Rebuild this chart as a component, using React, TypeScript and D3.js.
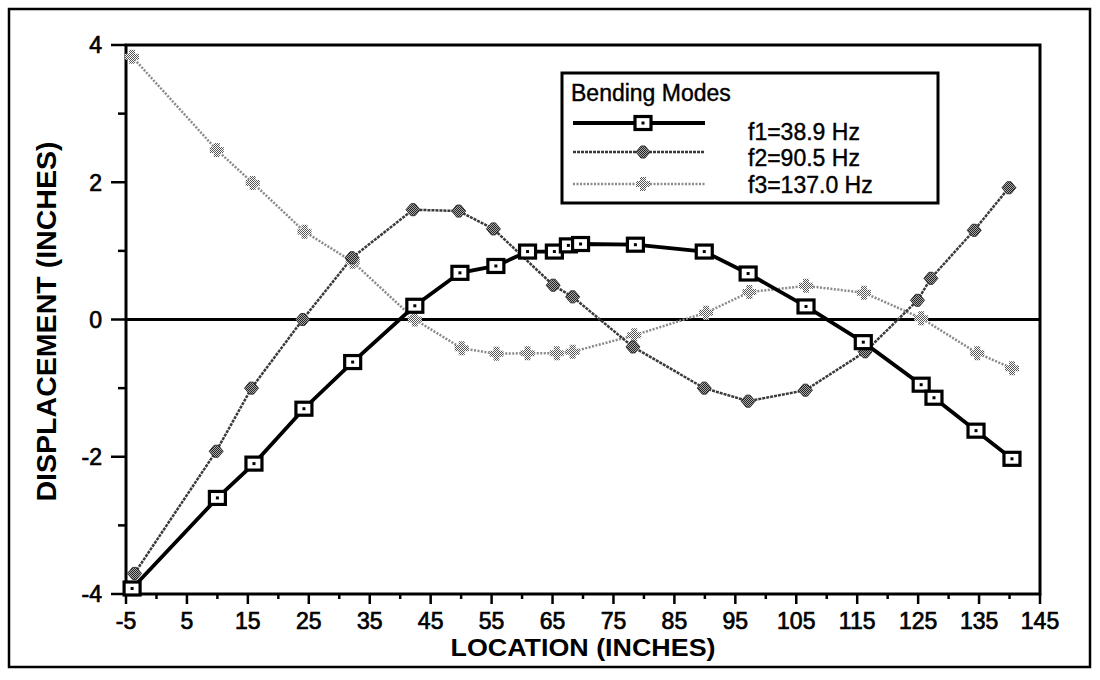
import React from "react";
import * as d3 from "d3";

const f1X = [-4, 10, 16, 24.2, 32.2, 42.4, 49.8, 55.7, 60.9, 65.3, 67.6, 69.6, 78.6, 89.9, 97.1, 106.6, 116, 125.5, 127.6, 134.5, 140.4];
const f1Y = [-3.92, -2.6, -2.1, -1.3, -0.62, 0.2, 0.68, 0.78, 0.99, 0.99, 1.08, 1.1, 1.09, 0.99, 0.67, 0.19, -0.33, -0.95, -1.14, -1.62, -2.03];

const f2X = [-3.6, 9.8, 15.6, 24, 32.1, 42.1, 49.6, 55.3, 65.1, 68.3, 78.2, 89.9, 97.1, 106.5, 116.3, 124.9, 127.1, 134.2, 139.9];
const f2Y = [-3.7, -1.92, -1.0, 0.0, 0.9, 1.6, 1.58, 1.32, 0.5, 0.33, -0.4, -1.0, -1.19, -1.03, -0.47, 0.28, 0.6, 1.3, 1.92];

const f3X = [-4, 9.9, 15.8, 24.3, 32.2, 42.4, 50.1, 55.8, 60.9, 65.7, 68.3, 78.4, 90.2, 97.3, 106.6, 116.1, 125.5, 134.7, 140.4];
const f3Y = [3.83, 2.47, 1.99, 1.28, 0.84, 0.0, -0.42, -0.5, -0.49, -0.49, -0.47, -0.23, 0.1, 0.4, 0.49, 0.39, 0.02, -0.49, -0.71];

const xTicks = [-5, 5, 15, 25, 35, 45, 55, 65, 75, 85, 95, 105, 115, 125, 135, 145];
const xMinor = [0, 10, 20, 30, 40, 50, 60, 70, 80, 90, 100, 110, 120, 130, 140];
const yTicks = [-4, -2, 0, 2, 4];
const yMinor = [-3, -1, 1, 3];
const legendLabels = ["f1=38.9 Hz", "f2=90.5 Hz", "f3=137.0 Hz"];
const legendTitle = "Bending Modes";
const xTitle = "LOCATION (INCHES)";
const yTitle = "DISPLACEMENT (INCHES)";

const W = 1100;
const H = 680;
const L = 126, R = 1040, T = 45, B = 594;
const FONT = "'Liberation Sans', Arial, Helvetica, sans-serif";

export default function App() {
  const x = d3.scaleLinear().domain([-5, 145]).range([L, R]);
  const y = d3.scaleLinear().domain([-4, 4]).range([B, T]);
  const line = d3.line<[number, number]>().x((d) => x(d[0])).y((d) => y(d[1]));
  const s1 = f1X.map((v, i) => [v, f1Y[i]] as [number, number]);
  const s2 = f2X.map((v, i) => [v, f2Y[i]] as [number, number]);
  const s3 = f3X.map((v, i) => [v, f3Y[i]] as [number, number]);

  const sq = (cx: number, cy: number, k: string) => (
    <g key={k}>
      <rect x={cx - 8} y={cy - 6.5} width={16} height={13} fill="#fff" stroke="#000" strokeWidth={3.2} />
      <rect x={cx - 1.5} y={cy - 1.5} width={3} height={3} fill="#000" />
    </g>
  );
  const m2 = (cx: number, cy: number, k: string) => (
    <path key={k} d={`M${cx - 7},${cy} L${cx - 2},${cy - 6} L${cx + 2},${cy - 6} L${cx + 7},${cy} L${cx + 2},${cy + 6} L${cx - 2},${cy + 6} Z`} fill="url(#chk2)" stroke="#333" strokeWidth={1} />
  );
  const m3 = (cx: number, cy: number, k: string) => (
    <path key={k} d={`M${cx - 3},${cy - 7} H${cx + 3} V${cy - 3} H${cx + 7} V${cy + 3} H${cx + 3} V${cy + 7} H${cx - 3} V${cy + 3} H${cx - 7} V${cy - 3} H${cx - 3} Z`} fill="url(#chk3)" stroke="none" />
  );

  const lgX = 562, lgY = 73, lgW = 376, lgH = 130;
  const rows = [123, 152, 184];
  const textRows = [140, 166, 193];

  return (
    <svg width={W} height={H} style={{ position: "absolute", left: 0, top: 0, background: "#fff" }} fontFamily={FONT}>
      <defs>
        <pattern id="chk2" width="2" height="2" patternUnits="userSpaceOnUse">
          <rect width="2" height="2" fill="#aaa" />
          <rect width="1" height="1" fill="#222" />
          <rect x="1" y="1" width="1" height="1" fill="#222" />
        </pattern>
        <pattern id="chk3" width="2" height="2" patternUnits="userSpaceOnUse">
          <rect width="2" height="2" fill="#fff" />
          <rect width="1" height="1" fill="#555" />
          <rect x="1" y="1" width="1" height="1" fill="#555" />
        </pattern>
      </defs>
      <rect x={9} y={9} width={1081} height={658} fill="none" stroke="#000" strokeWidth={2.5} />

      {/* frame */}
      <rect x={L} y={T} width={R - L} height={B - T} fill="none" stroke="#000" strokeWidth={3} />
      <line x1={x(-5)} x2={x(145)} y1={y(0)} y2={y(0)} stroke="#000" strokeWidth={3} />

      {/* y ticks */}
      {yTicks.map((t) => (
        <g key={"yt" + t}>
          <line x1={L - 15} x2={L} y1={y(t)} y2={y(t)} stroke="#000" strokeWidth={2.5} />
          <text x={L - 24} y={y(t)} dy="0.36em" textAnchor="end" fontSize={23} stroke="#000" strokeWidth={0.7}>{t}</text>
        </g>
      ))}
      {yMinor.map((t) => (
        <line key={"ym" + t} x1={L - 8} x2={L} y1={y(t)} y2={y(t)} stroke="#000" strokeWidth={2.5} />
      ))}
      {/* x ticks */}
      {xTicks.map((t) => (
        <g key={"xt" + t}>
          <line x1={x(t)} x2={x(t)} y1={B} y2={B + 10} stroke="#000" strokeWidth={2.5} />
          <text x={x(t)} y={B + 35} textAnchor="middle" fontSize={23} stroke="#000" strokeWidth={0.7}>{t}</text>
        </g>
      ))}
      {xMinor.map((t) => (
        <line key={"xm" + t} x1={x(t)} x2={x(t)} y1={B} y2={B + 5} stroke="#000" strokeWidth={2.5} />
      ))}
      <text x={(L + R) / 2} y={656} textAnchor="middle" fontSize={23} fontWeight="bold" textLength={265} lengthAdjust="spacingAndGlyphs">{xTitle}</text>
      <text transform={`translate(46,${(T + B) / 2 + 2}) rotate(-90)`} textAnchor="middle" fontSize={28} fontWeight="bold" dy="0.36em" textLength={360} lengthAdjust="spacingAndGlyphs">{yTitle}</text>

      {/* series */}
      <path d={line(s3) || ""} fill="none" stroke="#8a8a8a" strokeWidth={2.5} strokeDasharray="2 1.5" />
      <path d={line(s2) || ""} fill="none" stroke="#3a3a3a" strokeWidth={2.5} strokeDasharray="3 1" />
      <path d={line(s1) || ""} fill="none" stroke="#000" strokeWidth={3.8} />
      {s3.map((d, i) => m3(x(d[0]), y(d[1]), "c" + i))}
      {s2.map((d, i) => m2(x(d[0]), y(d[1]), "b" + i))}
      {s1.map((d, i) => sq(x(d[0]), y(d[1]), "a" + i))}

      {/* legend */}
      <rect x={lgX} y={lgY} width={lgW} height={lgH} fill="#fff" stroke="#000" strokeWidth={3} />
      <text x={571} y={101} fontSize={23} stroke="#000" strokeWidth={0.4}>{legendTitle}</text>
      <line x1={573} x2={705} y1={rows[0]} y2={rows[0]} stroke="#000" strokeWidth={3.8} />
      {sq(643, rows[0], "l1")}
      <line x1={573} x2={705} y1={rows[1]} y2={rows[1]} stroke="#3a3a3a" strokeWidth={2.5} strokeDasharray="3 1" />
      {m2(643, rows[1], "l2")}
      <line x1={573} x2={705} y1={rows[2]} y2={rows[2]} stroke="#8a8a8a" strokeWidth={2.5} strokeDasharray="2 1.5" />
      {m3(643, rows[2], "l3")}
      {legendLabels.map((s, i) => (
        <text key={s} x={748} y={textRows[i]} fontSize={23} stroke="#000" strokeWidth={0.4}>{s}</text>
      ))}
    </svg>
  );
}
